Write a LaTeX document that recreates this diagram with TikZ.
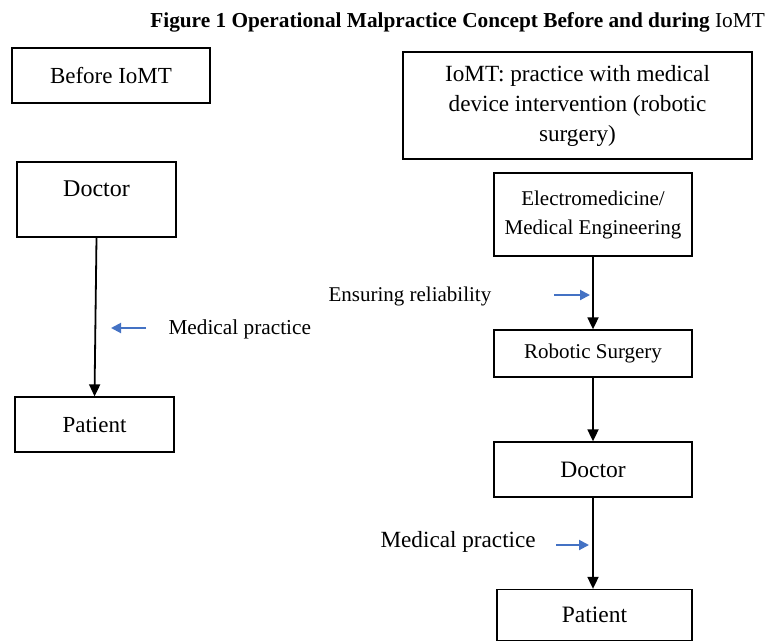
\documentclass[tikz,border=0pt]{standalone}
\usepackage{fontspec}
\setmainfont{Liberation Serif}
\usetikzlibrary{arrows.meta}
\definecolor{arrowblue}{HTML}{4472C4}
\tikzset{
  box/.style={draw=black, line width=1.3pt, rectangle, inner sep=0pt, align=center},
  flow/.style={draw=black, line width=1.8pt, -{Triangle[length=12pt,width=11pt]}},
  hint/.style={draw=arrowblue, line width=2pt, -{Triangle[length=10pt,width=10pt]}},
  bigtxt/.style={font=\fontsize{23}{30}\selectfont},
  midtxt/.style={font=\fontsize{21}{29}\selectfont},
}
\begin{document}
\begin{tikzpicture}[x=1pt,y=-1pt]
\useasboundingbox (0,0) rectangle (766,641);
% title
\node[anchor=east, inner sep=0pt, font=\fontsize{21.3}{24}\selectfont] (title) at (765,22) {\textbf{Figure 1 Operational Malpractice Concept Before and during} IoMT};
% left column
\node[box, bigtxt, minimum width=198pt, minimum height=55pt] (before) at (111,75.5) {Before IoMT};
\node[box, font=\fontsize{24}{28}\selectfont, minimum width=159pt, minimum height=75pt, text height=17pt, text depth=23pt] (ldoc) at (96.5,199.5) {Doctor};
\node[box, bigtxt, minimum width=159pt, minimum height=55pt] (lpat) at (94.5,424.5) {Patient};
\draw[flow] (ldoc.south) -- (lpat.north);
\node[font=\fontsize{21.3}{26}\selectfont, anchor=west] (lmp) at (165,329) {Medical practice};
\coordinate (lbs) at (146,328);
\coordinate (lbe) at (111,328);
\draw[hint] (lbs) -- (lbe);
% right column
\node[box, font=\fontsize{23.2}{30}\selectfont, minimum width=349pt, minimum height=107pt] (iomt) at (577.5,105.5) {IoMT: practice with medical\\device intervention (robotic\\surgery)};
\node[box, midtxt, minimum width=198pt, minimum height=83pt] (elec) at (593,214.5) {Electromedicine/\\Medical Engineering};
\node[box, midtxt, minimum width=198pt, minimum height=47pt] (robo) at (593,353.5) {Robotic Surgery};
\node[box, font=\fontsize{23.5}{30}\selectfont, minimum width=198pt, minimum height=55pt] (rdoc) at (593,469.5) {Doctor};
\node[box, font=\fontsize{23.5}{30}\selectfont, minimum width=195pt, minimum height=51pt] (rpat) at (594.5,615) {Patient};
\draw[flow] (elec.south) -- (robo.north);
\draw[flow] (robo.south) -- (rdoc.north);
\draw[flow] (rdoc.south) -- (rdoc.south |- rpat.north);
\node[midtxt, anchor=west] (ens) at (325,296) {Ensuring reliability};
\coordinate (ebs) at (554,295);
\coordinate (ebe) at (590,295);
\draw[hint] (ebs) -- (ebe);
\node[font=\fontsize{23.2}{30}\selectfont, anchor=west] (rmp) at (377,542) {Medical practice};
\coordinate (rbs) at (556,545);
\coordinate (rbe) at (589,545);
\draw[hint] (rbs) -- (rbe);
\end{tikzpicture}
\end{document}
